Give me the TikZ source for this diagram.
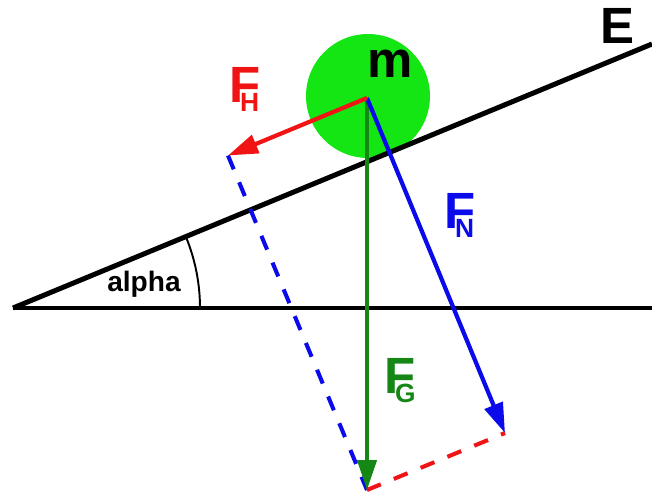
\documentclass[tikz,border=0pt]{standalone}
\usepackage{fontspec}
\setmainfont{Liberation Sans}
\usetikzlibrary{arrows.meta}
\definecolor{ballgreen}{RGB}{20,230,20}
\definecolor{fgreen}{RGB}{20,135,20}
\definecolor{fred}{RGB}{240,20,20}
\definecolor{fblue}{RGB}{10,10,235}
\newcommand{\flabel}[1]{F\kern-0.40em\raisebox{-0.19em}{\fontsize{15}{15}\selectfont #1}}

\begin{document}
\begin{tikzpicture}[
	force/.style={line width=2.4pt, -{Triangle[length=0.6cm, width=0.38cm]}},
	comp/.style={line width=2.3pt, dash pattern=on 8.5pt off 8pt},
	lbl/.style={font=\fontsize{29}{29}\selectfont\bfseries, inner sep=0pt}]
	\useasboundingbox (0,0) rectangle (13.04,9.86);
	\fill[ballgreen] (7.36,7.94) circle (1.24);
	\coordinate (A) at (0.26,3.70);
	\coordinate (m) at (7.34,7.90);
	\coordinate (H) at (4.56,6.75);
	\coordinate (N) at (10.10,1.20);
	\coordinate (G) at (7.34,0.06);
	\draw[line width=2pt] (A) -- (13.04,3.70);
	\draw[line width=2.85pt] (A) -- (13.04,8.98);
	\draw[line width=1.1pt] (A) ++(0:3.74) arc[start angle=0, end angle=22.4, radius=3.74];
	\draw[comp, fblue] (H) -- (G);
	\draw[comp, fred] (G) -- (N);
	\draw[force, fgreen] (m) -- (G);
	\draw[force, fblue] (m) -- (N);
	\draw[force, fred] (m) -- (H);
	\node[lbl] (mlabel) at (7.80,8.58) {m};
	\node[lbl] (elabel) at (12.34,9.34) {E};
	\node[lbl, fred, anchor=base west] (fh) at (4.58,7.82) {\flabel{H}};
	\node[lbl, fblue, anchor=base west] (fn) at (8.88,5.30) {\flabel{N}};
	\node[lbl, fgreen, anchor=base west] (fg) at (7.68,2.00) {\flabel{G}};
	\node[font=\fontsize{16}{16}\selectfont\bfseries] (alpha) at (2.88,4.18) {alpha};
\end{tikzpicture}
\end{document}
